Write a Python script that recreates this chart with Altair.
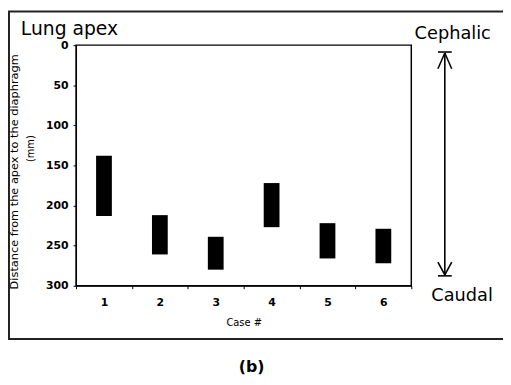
import altair as alt
import pandas as pd

cases = ["1", "2", "3", "4", "5", "6"]
apex_top = [138, 212, 239, 172, 222, 229]
apex_bottom = [213, 261, 280, 227, 266, 272]
y_ticks = [0, 50, 100, 150, 200, 250, 300]

df = pd.DataFrame({"case": cases, "top": apex_top, "bottom": apex_bottom})
one = pd.DataFrame({"k": [0]})

FONT = "DejaVu Sans"

bars = alt.Chart(df).mark_bar(size=16, color="black").encode(
    x=alt.X("case:N", sort=cases,
            scale=alt.Scale(paddingInner=0, paddingOuter=0),
            axis=alt.Axis(title="Case #", labelAngle=0, tickBand="extent",
                          labelFont=FONT, labelFontWeight="bold", labelFontSize=11,
                          labelPadding=8, tickSize=3, titleFont=FONT,
                          titleFontSize=10, titleFontWeight="normal",
                          titlePadding=10, labelColor="black", titleColor="black",
                          domainColor="black", tickColor="black", grid=False)),
    y=alt.Y("top:Q", scale=alt.Scale(domain=[0, 300], reverse=True, nice=False),
            axis=alt.Axis(title=None, values=y_ticks, labelFont=FONT,
                          labelFontWeight="bold", labelFontSize=11, labelPadding=5,
                          tickSize=3, labelColor="black", domainColor="black",
                          tickColor="black", grid=False)),
    y2="bottom:Q",
)


def seg(x1, y1, x2, y2, w=1.6):
    return alt.Chart(one).mark_rule(color="black", strokeWidth=w).encode(
        x=alt.value(x1), y=alt.value(y1), x2=alt.value(x2), y2=alt.value(y2))


def txt(s, x, y, size, weight="normal", align="center", baseline="alphabetic", angle=0):
    return alt.Chart(one).mark_text(text=s, font=FONT, fontSize=size, fontWeight=weight,
                                    align=align, baseline=baseline, angle=angle,
                                    color="black").encode(x=alt.value(x), y=alt.value(y))


frame = alt.Chart(one).mark_rect(fill=None, stroke="#222", strokeWidth=2).encode(
    x=alt.value(-68), x2=alt.value(440), y=alt.value(-34), y2=alt.value(298))

layers = [
    frame,
    bars,
    seg(374, 8, 374, 234),
    seg(367, 7, 381, 7),
    seg(374, 8, 367, 24),
    seg(374, 8, 381, 24),
    seg(367, 220, 374, 233),
    seg(381, 220, 374, 233),
    seg(367, 234, 381, 234),
    txt("Lung apex", -56, -10.5, 19, align="left"),
    txt("Cephalic", 382, -6.5, 18),
    txt("Caudal", 391.5, 259, 18),
    txt("(b)", 178, 332, 16, weight="bold"),
    txt("Distance from the apex to the diaphragm", -62, 128.5, 11.5, baseline="middle", angle=270),
    txt("(mm)", -46, 105, 10, baseline="middle", angle=270),
]

chart = alt.layer(*layers).properties(
    width=340, height=244,
    autosize=alt.AutoSizeParams(type="none"),
    padding={"left": 69, "top": 35, "right": 93, "bottom": 95},
    background="white",
).configure_view(stroke="black", strokeWidth=1.5)

chart.save("out.html", embed_options={"renderer": "svg", "actions": False})
